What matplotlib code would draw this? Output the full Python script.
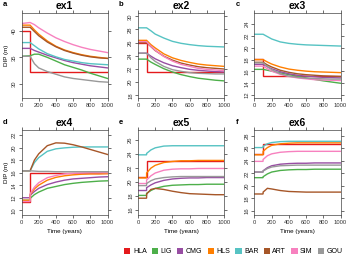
import matplotlib
matplotlib.use("Agg")
import matplotlib.pyplot as plt
from matplotlib.patches import Patch

# time grid (the 100 appears twice so a series can step at t = 100)
years = [0, 100, 100, 150, 200, 300, 400, 500, 600, 700, 800, 900, 1000]

models = ["HLA", "LIG", "CMG", "HLS", "BAR", "ART", "SIM", "GOU"]
colors = ["#e41a1c", "#4daf4a", "#984ea3", "#ff7f00", "#56c3c3", "#a65628", "#f781bf", "#999999"]

ex1 = {
    "HLA": [40.0, 40.0, 32.2, 32.2, 32.2, 32.2, 32.2, 32.2, 32.2, 32.2, 32.2, 32.2, 32.2],
    "LIG": [35.2, 35.3, 35.3, 35.6, 35.6, 35.0, 34.3, 33.6, 33.1, 32.6, 32.0, 31.5, 31.0],
    "CMG": [36.7, 36.7, 36.7, 36.3, 36.0, 35.4, 34.9, 34.4, 34.0, 33.7, 33.4, 33.2, 33.0],
    "HLS": [41.1, 41.1, 41.1, 40.2, 39.4, 38.1, 37.1, 36.4, 35.9, 35.5, 35.2, 35.0, 34.8],
    "BAR": [37.8, 37.8, 37.8, 37.2, 36.6, 35.7, 35.1, 34.6, 34.3, 34.0, 33.8, 33.7, 33.6],
    "ART": [40.7, 40.7, 40.7, 39.9, 39.1, 37.9, 37.0, 36.3, 35.8, 35.4, 35.1, 34.9, 34.8],
    "SIM": [41.4, 41.6, 41.6, 41.2, 40.6, 39.6, 38.7, 38.0, 37.4, 36.9, 36.5, 36.2, 35.9],
    "GOU": [35.2, 35.2, 35.2, 33.8, 33.0, 32.3, 31.8, 31.3, 31.0, 30.8, 30.6, 30.4, 30.3],
}

ex2 = {
    "HLA": [26.0, 26.0, 21.5, 21.5, 21.5, 21.5, 21.5, 21.5, 21.5, 21.5, 21.5, 21.5, 21.5],
    "LIG": [23.5, 23.5, 23.5, 23.05, 22.7, 22.05, 21.55, 21.15, 20.85, 20.6, 20.45, 20.3, 20.2],
    "CMG": [24.4, 24.4, 24.4, 23.95, 23.55, 22.95, 22.5, 22.2, 21.95, 21.8, 21.7, 21.6, 21.55],
    "HLS": [26.35, 26.35, 26.35, 25.7, 25.2, 24.3, 23.7, 23.3, 23.0, 22.75, 22.6, 22.5, 22.4],
    "BAR": [28.25, 28.25, 28.25, 27.8, 27.3, 26.7, 26.2, 25.9, 25.7, 25.55, 25.45, 25.4, 25.35],
    "ART": [26.0, 26.0, 26.0, 25.4, 24.8, 23.95, 23.35, 22.9, 22.6, 22.35, 22.2, 22.1, 22.0],
    "SIM": [26.15, 26.15, 26.15, 25.45, 24.85, 23.9, 23.2, 22.7, 22.4, 22.1, 21.95, 21.85, 21.75],
    "GOU": [24.4, 24.4, 24.4, 23.7, 23.15, 22.4, 21.9, 21.65, 21.45, 21.35, 21.3, 21.25, 21.25],
}

ex3 = {
    "HLA": [18.1, 18.1, 15.25, 15.25, 15.25, 15.25, 15.25, 15.25, 15.25, 15.25, 15.25, 15.25, 15.25],
    "LIG": [16.35, 16.35, 16.35, 16.2, 16.05, 15.75, 15.45, 15.2, 14.9, 14.65, 14.4, 14.2, 14.0],
    "CMG": [17.2, 17.2, 17.2, 16.8, 16.45, 15.95, 15.6, 15.35, 15.2, 15.1, 15.0, 14.95, 14.9],
    "HLS": [18.0, 18.0, 18.0, 17.6, 17.25, 16.75, 16.4, 16.2, 16.05, 15.95, 15.9, 15.85, 15.8],
    "BAR": [22.3, 22.3, 22.3, 21.9, 21.5, 21.0, 20.75, 20.6, 20.5, 20.45, 20.4, 20.35, 20.3],
    "ART": [17.55, 17.55, 17.55, 17.1, 16.75, 16.2, 15.85, 15.6, 15.45, 15.35, 15.25, 15.2, 15.15],
    "SIM": [16.9, 16.9, 16.9, 16.45, 16.05, 15.5, 15.15, 14.9, 14.75, 14.6, 14.55, 14.5, 14.45],
    "GOU": [17.45, 17.45, 17.45, 16.8, 16.3, 15.6, 15.2, 15.0, 14.85, 14.8, 14.75, 14.7, 14.7],
}

ex4 = {
    "HLA": [11.3, 11.3, 16.0, 16.0, 16.0, 16.0, 16.0, 16.0, 16.0, 16.0, 16.0, 16.0, 16.0],
    "LIG": [11.6, 11.6, 11.9, 12.5, 12.9, 13.5, 13.8, 14.1, 14.3, 14.45, 14.55, 14.65, 14.7],
    "CMG": [12.0, 12.0, 12.4, 13.0, 13.5, 14.1, 14.5, 14.8, 15.0, 15.1, 15.2, 15.3, 15.35],
    "HLS": [11.6, 11.6, 12.5, 13.4, 14.0, 14.8, 15.25, 15.5, 15.65, 15.75, 15.8, 15.8, 15.85],
    "BAR": [16.3, 16.3, 16.3, 17.6, 18.4, 19.4, 19.8, 19.95, 20.05, 20.1, 20.1, 20.1, 20.1],
    "ART": [16.3, 16.3, 16.3, 18.0, 19.0, 20.3, 20.75, 20.7, 20.45, 20.1, 19.7, 19.3, 18.9],
    "SIM": [11.4, 11.4, 12.6, 13.7, 14.4, 15.2, 15.55, 15.8, 15.9, 15.95, 16.0, 16.0, 16.0],
    "GOU": [16.3, 16.3, 16.3, 16.25, 16.2, 16.2, 16.15, 16.15, 16.15, 16.15, 16.15, 16.15, 16.15],
}

ex5 = {
    "HLA": [20.8, 20.8, 23.0, 23.0, 23.0, 23.0, 23.0, 23.0, 23.0, 23.0, 23.0, 23.0, 23.0],
    "LIG": [18.1, 18.1, 18.4, 18.8, 19.1, 19.4, 19.55, 19.6, 19.65, 19.65, 19.7, 19.7, 19.7],
    "CMG": [18.8, 18.8, 19.2, 19.6, 19.9, 20.25, 20.45, 20.55, 20.6, 20.6, 20.65, 20.65, 20.65],
    "HLS": [20.6, 20.6, 21.3, 22.0, 22.4, 22.8, 22.95, 23.05, 23.05, 23.1, 23.1, 23.1, 23.1],
    "BAR": [23.9, 23.9, 24.1, 24.6, 24.9, 25.15, 25.2, 25.2, 25.2, 25.2, 25.2, 25.2, 25.2],
    "ART": [17.7, 17.7, 18.3, 18.95, 19.1, 18.95, 18.7, 18.5, 18.35, 18.3, 18.25, 18.2, 18.2],
    "SIM": [19.8, 19.8, 20.3, 20.9, 21.3, 21.7, 21.85, 21.9, 21.9, 21.95, 21.95, 21.95, 21.95],
    "GOU": [19.5, 19.5, 19.8, 20.2, 20.45, 20.65, 20.75, 20.8, 20.8, 20.8, 20.8, 20.8, 20.8],
}

ex6 = {
    "HLA": [25.05, 25.05, 26.65, 26.65, 26.65, 26.65, 26.65, 26.65, 26.65, 26.65, 26.65, 26.65, 26.65],
    "LIG": [21.3, 21.3, 21.45, 21.9, 22.2, 22.45, 22.55, 22.6, 22.6, 22.65, 22.65, 22.65, 22.65],
    "CMG": [22.2, 22.2, 22.4, 22.9, 23.2, 23.45, 23.55, 23.6, 23.6, 23.65, 23.65, 23.65, 23.65],
    "HLS": [24.95, 24.95, 25.5, 26.1, 26.45, 26.7, 26.8, 26.85, 26.85, 26.85, 26.85, 26.85, 26.85],
    "BAR": [26.1, 26.1, 26.3, 26.7, 26.9, 27.05, 27.1, 27.1, 27.1, 27.1, 27.1, 27.1, 27.1],
    "ART": [18.7, 18.7, 19.0, 19.6, 19.5, 19.25, 19.1, 19.05, 19.0, 19.0, 19.0, 19.0, 19.0],
    "SIM": [23.9, 23.9, 24.2, 24.8, 25.1, 25.35, 25.45, 25.5, 25.5, 25.5, 25.5, 25.5, 25.5],
    "GOU": [22.2, 22.2, 22.35, 22.75, 23.0, 23.2, 23.25, 23.3, 23.3, 23.3, 23.3, 23.3, 23.3],
}

panels = [
    ("a", "ex1", ex1, (27.3, 43.4), [30, 35, 40]),
    ("b", "ex2", ex2, (17.6, 30.5), [18, 20, 22, 24, 26, 28, 30]),
    ("c", "ex3", ex3, (11.5, 25.9), [12, 14, 16, 18, 20, 22, 24]),
    ("d", "ex4", ex4, (9.25, 22.8), [10, 12, 14, 16, 18, 20, 22]),
    ("e", "ex5", ex5, (15.3, 27.45), [16, 18, 20, 22, 24, 26]),
    ("f", "ex6", ex6, (15.35, 28.9), [16, 18, 20, 22, 24, 26, 28]),
]

plt.rcParams["font.family"] = ["Liberation Sans", "DejaVu Sans"]

W, H = 350, 258
fig = plt.figure(figsize=(W / 100, H / 100), dpi=100)

lefts = [21.5, 138, 254.5]
tops = [13, 130]
aw, ah = 86, 85

for i, (letter, name, data, ylim, yticks) in enumerate(panels):
    row, col = divmod(i, 3)
    ax = fig.add_axes([lefts[col] / W, 1 - (tops[row] + ah) / H, aw / W, ah / H])

    for m, c in zip(models, colors):
        ax.plot(years, data[m], color=c, lw=1.0, solid_joinstyle="miter")

    ax.set_xlim(0, 1000)
    ax.set_ylim(*ylim)
    ax.set_xticks([0, 200, 400, 600, 800, 1000])
    ax.set_yticks(yticks)
    ax.tick_params(direction="out", length=2, width=0.5, pad=1.5, labelsize=4.2,
                   top=True, right=True, colors="#333333")
    ax.tick_params(axis="y", labelrotation=90)
    for lbl in ax.get_yticklabels():
        lbl.set_va("center")
    for s in ax.spines.values():
        s.set_linewidth(0.5)
        s.set_color("#444444")

    ax.set_title(name, fontsize=7.5, fontweight="bold", pad=3)
    fig.text((lefts[col] - 19) / W, 1 - (tops[row] - 8) / H, letter,
             fontsize=5.5, fontweight="bold", ha="left", va="center")

    if col == 0:
        ax.set_ylabel("DIP (m)", fontsize=4.5, labelpad=2)
    if row == 1:
        ax.set_xlabel("Time (years)", fontsize=4.5, labelpad=3)

handles = [Patch(facecolor=c, edgecolor="none") for c in colors]
fig.legend(handles, models, ncol=8, loc="center", bbox_to_anchor=(0.667, 0.025),
           fontsize=5, frameon=False, handlelength=0.9, handleheight=0.9,
           handletextpad=0.35, columnspacing=0.75, borderaxespad=0)

fig.savefig("out.png", dpi=100)
